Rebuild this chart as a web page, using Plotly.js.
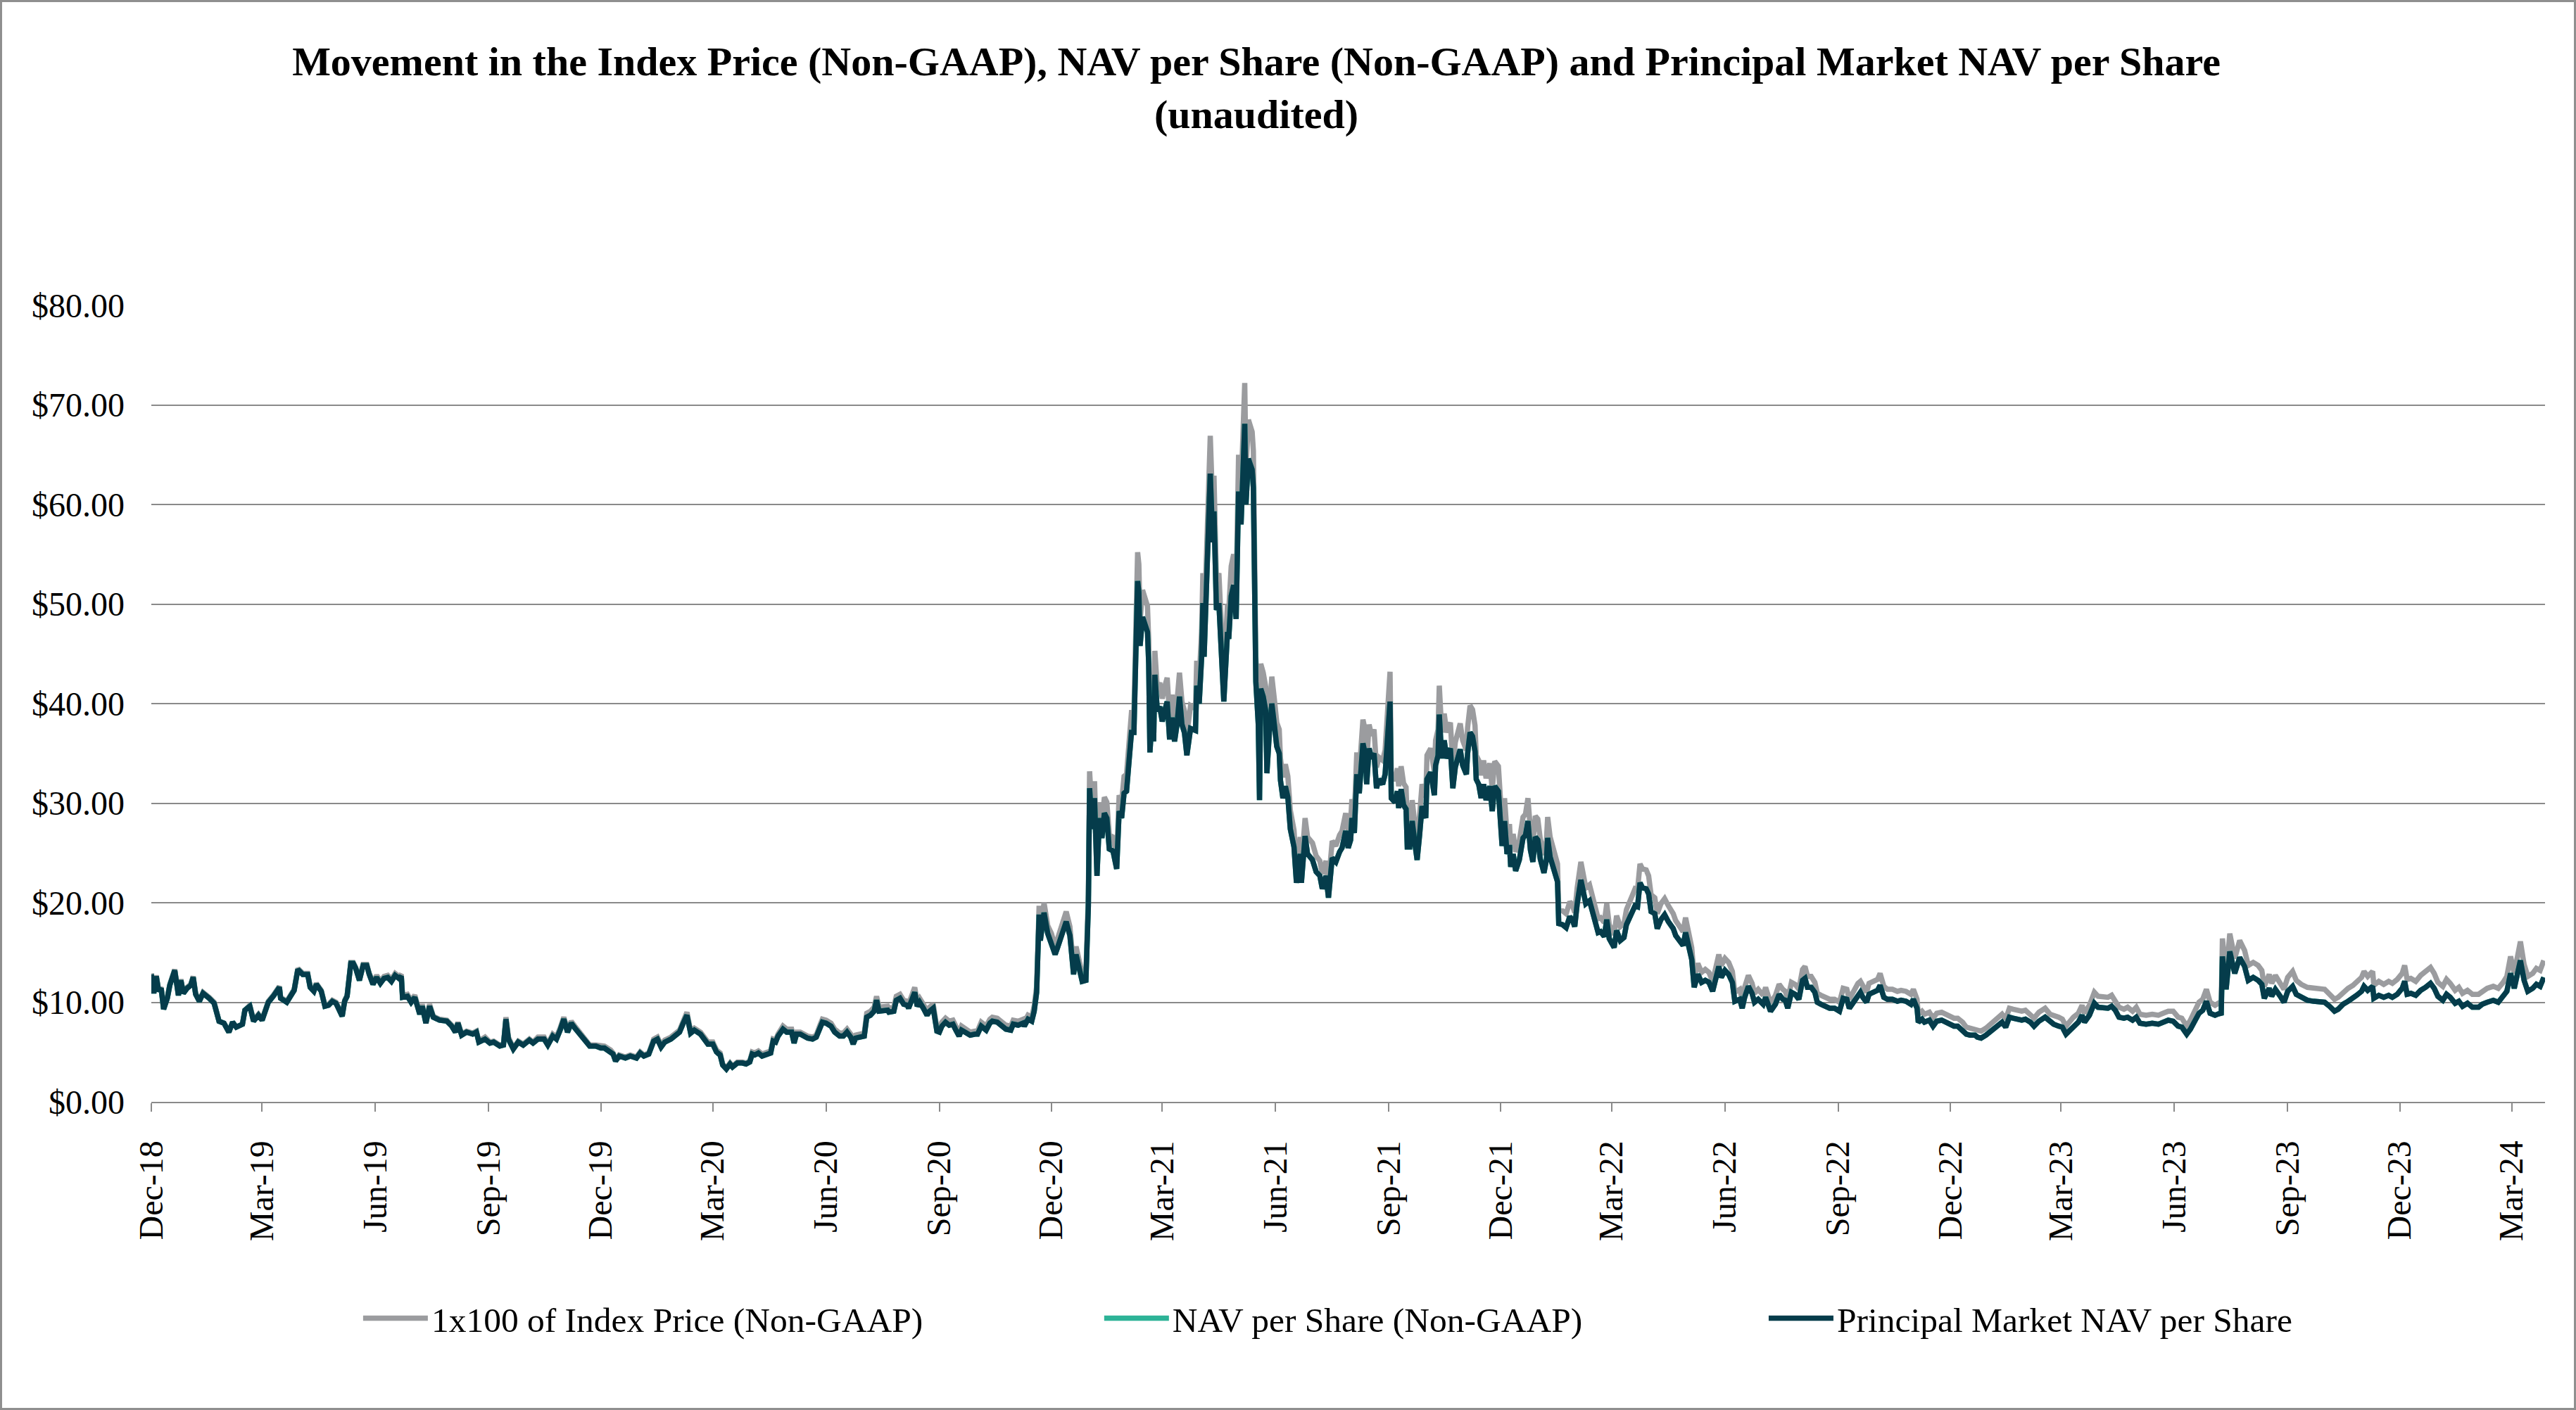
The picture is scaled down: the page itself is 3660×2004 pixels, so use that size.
<!DOCTYPE html>
<html><head><meta charset="utf-8">
<script src="https://cdn.plot.ly/plotly-3.0.1.min.js"></script>
<style>html,body{margin:0;padding:0;background:#fff}
#chart{width:3660px;height:2004px;box-sizing:border-box;border:3px solid #8f8f8f}</style>
</head><body><div id="chart"></div>
<script>
// Days counted from the first date of the series
const startDate = '2018-12-01';
const dayOffsets = [
0,2,4,6,8,10,13,15,19,22,24,26,29,32,34,36,39,42,47,51,55,59,63,66,69,74,76,80,83,87,
90,95,99,104,105,110,114,116,119,123,127,129,132,134,138,141,144,147,150,153,155,157,159,162,164,166,169,172,175,177,
180,183,186,189,192,195,198,201,203,204,208,211,214,218,220,223,226,229,234,240,244,247,249,252,256,261,264,266,
271,275,278,283,286,288,290,294,298,302,307,310,314,319,322,326,329,332,335,338,341,344,349,353,356,361,
365,368,373,375,377,380,385,389,394,397,400,404,408,411,414,417,422,426,429,432,435,438,441,446,452,
456,459,462,464,467,470,472,476,480,483,486,488,490,493,496,499,503,505,507,509,513,516,520,522,524,527,530,533,537,540,543,
545,548,552,555,559,562,565,568,570,572,576,579,581,584,587,589,591,595,598,599,603,605,608,611,614,615,618,620,622,624,627,630,632,635,638,
640,642,645,648,651,653,656,658,661,665,669,671,674,678,681,683,687,690,694,698,700,704,708,709,712,715,717,719,721,722,725,728,
731,734,736,740,743,746,749,751,754,756,759,761,762,764,766,768,770,772,774,776,778,781,784,786,788,790,792,794,796,798,799,801,802,803,805,807,809,810,811,813,814,815,817,
819,821,823,825,827,829,831,833,835,837,839,841,844,848,849,851,853,854,855,857,858,860,862,863,865,867,869,871,874,875,877,879,881,883,885,886,888,889,891,892,894,895,896,897,899,900,901,903,905,906,908,
910,912,914,916,917,919,921,923,925,928,930,933,934,937,939,943,946,949,951,954,956,959,962,965,967,970,972,974,975,977,979,981,984,986,987,989,991,993,995,997,
1000,1002,1004,1006,1007,1010,1012,1013,1015,1017,1019,1020,1022,1024,1026,1028,1030,1032,1035,1036,1039,1042,1043,1045,1046,1048,1050,1052,1055,1057,1059,1061,1063,1065,1068,1069,1071,1073,1075,1076,1078,1080,1082,1084,1087,1089,
1091,1094,1096,1097,1099,1101,1103,1104,1106,1108,1111,1114,1116,1118,1120,1122,1124,1126,1128,1131,1133,1134,1136,1139,1142,1143,1146,1149,1152,1154,1156,1158,1161,1163,1165,1168,1171,1175,1177,
1180,1182,1184,1188,1190,1193,1196,1198,1201,1205,1207,1209,1211,1214,1216,1218,1221,1223,1226,1229,1232,1236,1238,1241,1244,1246,1248,1251,1253,1256,1259,1262,1265,1268,1273,
1275,1278,1281,1284,1286,1290,1292,1294,1297,1300,1302,1305,1309,1311,1315,1319,1322,1325,1327,1329,1332,1335,1338,1341,1343,1345,1348,1351,1353,1356,1359,1363,
1367,1371,1374,1377,1379,1382,1386,1388,1390,1393,1395,1399,1402,1404,1407,1410,1414,1418,1421,1425,1429,1431,1434,1435,1438,1440,1444,1447,1450,1454,
1457,1461,1464,1467,1471,1474,1477,1481,1483,1486,1490,1493,1497,1501,1503,1506,1509,1512,1516,1519,1522,1526,1529,1533,1538,1542,
1545,1549,1552,1555,1561,1565,1568,1570,1574,1578,1581,1585,1589,1592,1595,1598,1602,1605,1609,1612,1615,1620,1625,1630,1634,1638,
1642,1646,1649,1653,1656,1659,1663,1666,1669,1672,1676,1680,1681,1682,1685,1688,1692,1696,1700,1703,1707,1711,1714,1716,1720,1722,1725,1729,
1732,1735,1739,1742,1746,1751,1756,1760,1765,1769,1773,1776,1780,1784,1788,1791,1795,1797,1800,1804,1805,1809,1813,1817,
1820,1824,1828,1830,1832,1835,1839,1843,1847,1851,1854,1857,1861,1864,1867,1871,1874,1877,1881,1885,1890,1893,1897,1902,1906,1910,1913,1916,1919,1924,1927,1930,1934,1937,1940,1943
];

const indexPriceX100 = [
12.9,11.0,12.7,11.2,11.5,9.3,10.5,11.8,13.3,10.8,12.3,11.0,11.5,11.8,12.6,10.9,10.2,11.0,10.5,10.0,8.1,7.9,7.0,8.0,7.5,7.8,9.2,9.7,8.2,8.8,
8.3,10.1,10.7,11.6,10.5,10.1,10.9,11.3,13.4,12.9,12.9,11.6,11.2,11.9,11.2,9.7,9.8,10.2,10.0,9.3,8.7,10.2,10.7,14.0,14.0,13.5,12.3,13.8,13.8,12.9,
12.0,12.7,12.1,12.6,12.7,12.3,12.9,12.6,12.8,10.7,10.8,10.2,10.7,8.9,9.8,8.0,9.8,8.6,8.3,8.2,7.7,7.1,8.0,6.8,7.1,6.9,7.1,6.1,
6.5,6.0,6.1,5.7,5.8,8.5,6.5,5.4,6.1,5.8,6.3,6.0,6.5,6.5,5.8,6.8,6.5,7.4,8.5,7.2,8.1,7.6,6.8,6.0,5.7,5.7,
5.6,5.6,5.2,4.9,4.2,4.7,4.5,4.7,4.5,5.0,4.7,4.9,6.3,6.5,5.7,6.2,6.5,7.0,7.2,8.1,9.0,7.1,7.4,7.0,6.0,
6.0,5.2,4.9,3.8,3.4,3.9,3.6,4.0,4.0,3.9,4.1,5.0,4.9,5.1,4.8,4.9,5.1,6.3,6.2,6.8,7.6,7.3,7.3,6.1,7.0,7.0,6.8,6.6,6.5,6.7,7.7,
8.3,8.2,7.9,7.3,6.9,6.9,7.3,6.8,6.0,6.7,6.8,6.9,8.9,9.1,9.5,10.6,9.5,9.6,9.6,9.4,9.5,10.6,10.8,10.2,10.1,9.8,11.1,11.5,10.0,10.4,9.8,9.1,9.5,9.8,7.4,
7.4,8.0,8.4,8.1,8.2,7.7,6.9,7.6,7.4,7.0,7.1,7.1,8.0,7.6,8.3,8.5,8.4,8.1,7.7,7.6,8.2,8.1,8.3,8.0,8.7,8.5,9.6,11.6,19.7,17.0,20.0,17.7,
16.9,15.6,16.4,17.8,19.1,17.6,13.5,15.6,13.8,12.8,12.9,20.8,33.2,28.9,32.2,23.9,30.1,28.0,30.6,30.1,26.8,26.6,24.7,30.8,30.1,32.7,32.9,36.5,39.1,39.1,46.4,55.2,54.0,48.3,51.4,50.5,49.8,46.4,37.0,41.3,38.2,45.3,41.5,
42.1,40.5,41.7,42.6,38.6,40.9,38.4,40.2,43.1,40.2,39.3,36.9,39.8,39.5,44.3,42.4,47.4,53.1,47.4,56.9,57.7,66.9,59.6,62.9,52.4,53.1,47.8,42.6,50.0,49.3,53.8,55.0,51.4,65.0,61.5,64.6,72.2,63.6,68.5,68.1,67.3,65.4,49.3,44.7,40.2,32.1,44.0,43.1,41.7,35.0,39.3,
42.7,40.5,38.1,37.4,34.5,32.6,33.9,32.7,29.3,27.3,23.5,26.6,23.5,28.5,26.6,26.0,24.7,24.2,22.9,24.2,21.9,26.2,25.7,26.8,27.2,29.0,27.2,28.1,30.4,28.8,35.1,33.1,38.4,37.2,34.1,37.9,36.8,37.4,33.6,34.6,
34.3,35.3,38.7,43.2,32.8,32.3,33.5,31.7,33.7,32.0,31.6,27.5,27.5,30.3,28.0,26.1,28.8,31.9,30.6,34.8,35.5,33.1,36.3,37.4,41.8,37.1,39.0,37.1,38.1,33.8,36.1,37.1,38.0,36.3,35.3,37.6,39.8,39.4,37.8,34.8,34.3,32.8,34.3,32.5,34.0,31.4,
34.2,33.7,28.2,27.8,30.5,26.9,27.9,25.5,26.9,25.1,26.2,28.6,28.9,30.5,27.3,26.0,28.7,28.4,26.4,24.8,26.2,28.6,26.6,25.4,23.9,19.3,19.2,18.9,20.1,19.8,19.0,21.5,24.1,22.8,21.5,21.8,20.3,18.4,18.5,
18.0,19.9,17.8,16.8,18.7,17.6,17.9,19.3,20.1,21.4,21.3,23.9,23.4,23.3,22.7,20.8,20.5,18.9,19.9,20.4,19.7,18.9,18.2,17.6,17.1,18.5,17.1,15.5,12.5,13.9,13.0,13.3,13.0,12.1,14.8,
13.7,14.4,14.0,13.1,11.0,11.3,10.3,11.5,12.7,11.9,10.9,11.3,10.7,11.5,9.9,10.7,11.8,11.3,11.1,10.3,12.0,11.8,11.3,13.3,13.6,12.6,12.6,12.0,10.9,10.7,10.5,10.3,
10.3,10.0,11.4,11.3,10.3,11.0,11.9,12.1,11.6,11.0,11.9,12.2,12.3,12.9,11.6,11.3,11.3,11.1,11.2,11.1,10.8,11.3,10.3,8.8,9.1,8.8,9.0,8.4,8.9,9.0,
8.8,8.6,8.4,8.4,8.0,7.5,7.4,7.4,7.2,7.1,7.4,7.7,8.2,8.5,8.8,8.3,9.4,9.3,9.2,9.1,9.2,8.8,8.4,9.0,9.4,8.8,
8.7,8.5,8.3,7.6,8.5,8.9,9.7,8.9,9.7,11.0,10.6,10.5,10.5,10.7,10.2,9.5,9.3,9.5,9.1,9.5,8.8,8.7,8.8,8.7,8.9,9.1,
9.1,8.5,8.4,7.6,8.2,9.0,10.0,10.3,11.3,10.0,9.7,10.0,9.7,16.4,12.7,16.9,14.4,16.2,15.2,13.7,14.0,13.7,13.2,11.6,12.8,11.9,12.7,11.9,
11.3,12.5,13.1,12.2,11.8,11.5,11.4,11.3,11.3,10.8,10.3,10.5,11.0,11.4,11.7,12.1,12.5,13.1,12.6,13.1,11.7,12.1,11.8,12.1,
11.9,12.3,12.9,13.7,12.3,12.4,12.1,12.7,13.1,13.5,12.9,12.0,11.6,12.3,11.9,11.2,11.5,10.9,11.2,10.8,10.8,11.1,11.4,11.6,11.4,12.0,12.6,14.6,12.9,16.1,13.8,12.6,12.9,13.4,13.2,14.2
];

const navPerShareNonGaap = [
12.8,10.9,12.6,11.1,11.4,9.3,10.4,11.7,13.2,10.7,12.2,10.9,11.4,11.7,12.5,10.8,10.1,10.9,10.4,9.9,8.1,7.9,7.0,8.0,7.5,7.8,9.2,9.6,8.1,8.7,
8.2,10.0,10.6,11.5,10.4,10.0,10.8,11.2,13.3,12.8,12.8,11.5,11.1,11.8,11.1,9.6,9.7,10.1,9.9,9.2,8.6,10.1,10.6,13.9,13.9,13.4,12.2,13.7,13.7,12.8,
11.8,12.5,11.9,12.4,12.5,12.1,12.7,12.4,12.6,10.5,10.6,10.0,10.5,8.8,9.6,7.9,9.6,8.5,8.2,8.1,7.6,7.0,7.9,6.7,7.0,6.8,7.0,6.0,
6.3,5.9,6.0,5.6,5.7,8.3,6.3,5.3,6.0,5.7,6.2,5.9,6.3,6.3,5.7,6.6,6.3,7.2,8.3,7.0,7.9,7.4,6.6,5.9,5.6,5.6,
5.4,5.4,5.0,4.8,4.1,4.6,4.4,4.6,4.4,4.9,4.6,4.8,6.1,6.3,5.5,6.0,6.3,6.8,7.0,7.9,8.7,6.9,7.2,6.8,5.8,
5.8,5.0,4.7,3.7,3.3,3.8,3.5,3.9,3.9,3.8,4.0,4.8,4.7,4.9,4.6,4.7,4.9,6.1,6.0,6.6,7.3,7.0,7.0,5.9,6.8,6.8,6.6,6.4,6.3,6.5,7.4,
8.0,7.9,7.6,7.0,6.6,6.6,7.0,6.5,5.8,6.4,6.5,6.6,8.5,8.7,9.1,10.2,9.1,9.2,9.2,9.0,9.1,10.2,10.4,9.8,9.7,9.4,10.6,11.0,9.6,10.0,9.4,8.7,9.1,9.4,7.1,
7.0,7.6,8.0,7.7,7.8,7.3,6.6,7.2,7.0,6.7,6.8,6.8,7.6,7.2,7.9,8.1,8.0,7.7,7.3,7.2,7.8,7.7,7.9,7.6,8.3,8.1,9.1,11.0,18.8,16.2,19.0,16.9,
16.0,14.8,15.5,16.9,18.1,16.7,12.8,14.8,13.1,12.1,12.2,19.7,31.5,27.4,30.5,22.7,28.5,26.5,29.0,28.5,25.4,25.2,23.4,29.2,28.5,31.0,31.2,34.6,37.1,37.1,44.0,52.3,51.2,45.8,48.7,47.9,47.2,44.0,35.1,39.1,36.2,42.9,39.3,
39.7,38.2,39.3,40.2,36.4,38.6,36.2,37.9,40.7,37.9,37.1,34.8,37.5,37.3,41.8,40.0,44.7,50.1,44.7,53.7,54.4,63.1,56.2,59.3,49.4,50.1,45.1,40.2,47.2,46.5,50.8,51.9,48.5,61.3,58.0,60.9,68.1,60.0,64.6,64.2,63.5,61.7,46.5,42.2,37.9,30.3,41.5,40.7,39.3,33.0,37.1,
40.0,37.9,35.7,35.0,32.3,30.5,31.7,30.6,27.4,25.6,22.0,24.9,22.0,26.7,24.9,24.3,23.1,22.7,21.4,22.7,20.5,24.5,24.1,25.1,25.5,27.2,25.5,26.3,28.5,27.0,32.9,31.0,36.0,34.8,31.9,35.5,34.5,35.0,31.5,32.4,
31.9,32.9,36.0,40.2,30.5,30.1,31.2,29.5,31.4,29.8,29.4,25.6,25.6,28.2,26.1,24.3,26.8,29.7,28.5,32.4,33.1,30.8,33.8,34.8,38.9,34.5,36.3,34.5,35.5,31.5,33.6,34.5,35.4,33.8,32.9,35.0,37.1,36.7,35.2,32.4,31.9,30.5,31.9,30.3,31.7,29.2,
31.7,31.2,26.1,25.7,28.2,24.9,25.8,23.6,24.9,23.2,24.3,26.5,26.8,28.2,25.3,24.1,26.6,26.3,24.4,23.0,24.3,26.5,24.6,23.5,22.1,17.9,17.8,17.5,18.6,18.3,17.6,19.9,22.3,21.1,19.9,20.2,18.8,17.0,17.1,
16.6,18.3,16.4,15.5,17.2,16.2,16.5,17.8,18.5,19.7,19.6,22.0,21.5,21.4,20.9,19.1,18.9,17.4,18.3,18.8,18.1,17.4,16.7,16.2,15.7,17.0,15.7,14.3,11.5,12.8,12.0,12.2,12.0,11.1,13.6,
12.5,13.2,12.8,12.0,10.1,10.3,9.4,10.5,11.6,10.9,10.0,10.3,9.8,10.5,9.1,9.8,10.8,10.3,10.2,9.4,11.0,10.8,10.3,12.2,12.4,11.5,11.5,11.0,10.0,9.8,9.6,9.4,
9.4,9.1,10.4,10.3,9.4,10.0,10.8,11.0,10.5,10.0,10.8,11.1,11.2,11.7,10.5,10.3,10.3,10.1,10.2,10.1,9.8,10.3,9.4,8.0,8.3,8.0,8.2,7.6,8.1,8.2,
8.0,7.8,7.6,7.6,7.2,6.8,6.7,6.7,6.5,6.4,6.7,7.0,7.4,7.7,8.0,7.5,8.5,8.4,8.3,8.2,8.3,8.0,7.6,8.1,8.5,8.0,
7.8,7.6,7.5,6.8,7.6,8.0,8.7,8.0,8.7,9.9,9.5,9.4,9.4,9.6,9.2,8.5,8.4,8.5,8.2,8.5,7.9,7.8,7.9,7.8,8.0,8.2,
8.1,7.6,7.5,6.8,7.3,8.0,8.9,9.2,10.1,8.9,8.7,8.9,8.7,14.6,11.3,15.1,12.9,14.5,13.6,12.2,12.5,12.2,11.8,10.4,11.4,10.6,11.3,10.6,
10.0,11.1,11.6,10.8,10.5,10.2,10.1,10.0,10.0,9.6,9.1,9.3,9.8,10.1,10.4,10.7,11.1,11.6,11.2,11.6,10.4,10.7,10.5,10.7,
10.5,10.8,11.4,12.1,10.8,10.9,10.7,11.2,11.5,11.9,11.4,10.6,10.2,10.8,10.5,9.9,10.1,9.6,9.9,9.5,9.5,9.8,10.0,10.2,10.0,10.6,11.1,12.9,11.4,14.2,12.2,11.1,11.4,11.8,11.6,12.5
];

const principalMarketNavPerShare = [
12.8,10.9,12.6,11.1,11.4,9.3,10.4,11.7,13.2,10.7,12.2,10.9,11.4,11.7,12.5,10.8,10.1,10.9,10.4,9.9,8.1,7.9,7.0,8.0,7.5,7.8,9.2,9.6,8.1,8.7,
8.2,10.0,10.6,11.5,10.4,10.0,10.8,11.2,13.3,12.8,12.8,11.5,11.1,11.8,11.1,9.6,9.7,10.1,9.9,9.2,8.6,10.1,10.6,13.9,13.9,13.4,12.2,13.7,13.7,12.8,
11.8,12.5,11.9,12.4,12.5,12.1,12.7,12.4,12.6,10.5,10.6,10.0,10.5,8.8,9.6,7.9,9.6,8.5,8.2,8.1,7.6,7.0,7.9,6.7,7.0,6.8,7.0,6.0,
6.3,5.9,6.0,5.6,5.7,8.3,6.3,5.3,6.0,5.7,6.2,5.9,6.3,6.3,5.7,6.6,6.3,7.2,8.3,7.0,7.9,7.4,6.6,5.9,5.6,5.6,
5.4,5.4,5.0,4.8,4.1,4.6,4.4,4.6,4.4,4.9,4.6,4.8,6.1,6.3,5.5,6.0,6.3,6.8,7.0,7.9,8.7,6.9,7.2,6.8,5.8,
5.8,5.0,4.7,3.7,3.3,3.8,3.5,3.9,3.9,3.8,4.0,4.8,4.7,4.9,4.6,4.7,4.9,6.1,6.0,6.6,7.3,7.0,7.0,5.9,6.8,6.8,6.6,6.4,6.3,6.5,7.4,
8.0,7.9,7.6,7.0,6.6,6.6,7.0,6.5,5.8,6.4,6.5,6.6,8.5,8.7,9.1,10.2,9.1,9.2,9.2,9.0,9.1,10.2,10.4,9.8,9.7,9.4,10.6,11.0,9.6,10.0,9.4,8.7,9.1,9.4,7.1,
7.0,7.6,8.0,7.7,7.8,7.3,6.6,7.2,7.0,6.7,6.8,6.8,7.6,7.2,7.9,8.1,8.0,7.7,7.3,7.2,7.8,7.7,7.9,7.6,8.3,8.1,9.1,11.0,18.8,16.2,19.0,16.9,
16.0,14.8,15.5,16.9,18.1,16.7,12.8,14.8,13.1,12.1,12.2,19.7,31.5,27.4,30.5,22.7,28.5,26.5,29.0,28.5,25.4,25.2,23.4,29.2,28.5,31.0,31.2,34.6,37.1,37.1,44.0,52.3,51.2,45.8,48.7,47.9,47.2,44.0,35.1,39.1,36.2,42.9,39.3,
39.7,38.2,39.3,40.2,36.4,38.6,36.2,37.9,40.7,37.9,37.1,34.8,37.5,37.3,41.8,40.0,44.7,50.1,44.7,53.7,54.4,63.1,56.2,59.3,49.4,50.1,45.1,40.2,47.2,46.5,50.8,51.9,48.5,61.3,58.0,60.9,68.1,60.0,64.6,64.2,63.5,61.7,46.5,42.2,37.9,30.3,41.5,40.7,39.3,33.0,37.1,
40.0,37.9,35.7,35.0,32.3,30.5,31.7,30.6,27.4,25.6,22.0,24.9,22.0,26.7,24.9,24.3,23.1,22.7,21.4,22.7,20.5,24.5,24.1,25.1,25.5,27.2,25.5,26.3,28.5,27.0,32.9,31.0,36.0,34.8,31.9,35.5,34.5,35.0,31.5,32.4,
31.9,32.9,36.0,40.2,30.5,30.1,31.2,29.5,31.4,29.8,29.4,25.6,25.6,28.2,26.1,24.3,26.8,29.7,28.5,32.4,33.1,30.8,33.8,34.8,38.9,34.5,36.3,34.5,35.5,31.5,33.6,34.5,35.4,33.8,32.9,35.0,37.1,36.7,35.2,32.4,31.9,30.5,31.9,30.3,31.7,29.2,
31.7,31.2,26.1,25.7,28.2,24.9,25.8,23.6,24.9,23.2,24.3,26.5,26.8,28.2,25.3,24.1,26.6,26.3,24.4,23.0,24.3,26.5,24.6,23.5,22.1,17.9,17.8,17.5,18.6,18.3,17.6,19.9,22.3,21.1,19.9,20.2,18.8,17.0,17.1,
16.6,18.3,16.4,15.5,17.2,16.2,16.5,17.8,18.5,19.7,19.6,22.0,21.5,21.4,20.9,19.1,18.9,17.4,18.3,18.8,18.1,17.4,16.7,16.2,15.7,17.0,15.7,14.3,11.5,12.8,12.0,12.2,12.0,11.1,13.6,
12.5,13.2,12.8,12.0,10.1,10.3,9.4,10.5,11.6,10.9,10.0,10.3,9.8,10.5,9.1,9.8,10.8,10.3,10.2,9.4,11.0,10.8,10.3,12.2,12.4,11.5,11.5,11.0,10.0,9.8,9.6,9.4,
9.4,9.1,10.4,10.3,9.4,10.0,10.8,11.0,10.5,10.0,10.8,11.1,11.2,11.7,10.5,10.3,10.3,10.1,10.2,10.1,9.8,10.3,9.4,8.0,8.3,8.0,8.2,7.6,8.1,8.2,
8.0,7.8,7.6,7.6,7.2,6.8,6.7,6.7,6.5,6.4,6.7,7.0,7.4,7.7,8.0,7.5,8.5,8.4,8.3,8.2,8.3,8.0,7.6,8.1,8.5,8.0,
7.8,7.6,7.5,6.8,7.6,8.0,8.7,8.0,8.7,9.9,9.5,9.4,9.4,9.6,9.2,8.5,8.4,8.5,8.2,8.5,7.9,7.8,7.9,7.8,8.0,8.2,
8.1,7.6,7.5,6.8,7.3,8.0,8.9,9.2,10.1,8.9,8.7,8.9,8.7,14.6,11.3,15.1,12.9,14.5,13.6,12.2,12.5,12.2,11.8,10.4,11.4,10.6,11.3,10.6,
10.0,11.1,11.6,10.8,10.5,10.2,10.1,10.0,10.0,9.6,9.1,9.3,9.8,10.1,10.4,10.7,11.1,11.6,11.2,11.6,10.4,10.7,10.5,10.7,
10.5,10.8,11.4,12.1,10.8,10.9,10.7,11.2,11.5,11.9,11.4,10.6,10.2,10.8,10.5,9.9,10.1,9.6,9.9,9.5,9.5,9.8,10.0,10.2,10.0,10.6,11.1,12.9,11.4,14.2,12.2,11.1,11.4,11.8,11.6,12.5
];

const seriesNames = ['1x100 of Index Price (Non-GAAP)', 'NAV per Share (Non-GAAP)', 'Principal Market NAV per Share'];
const yTickValues = [0, 10, 20, 30, 40, 50, 60, 70, 80];
const xRange = ['2018-12-01', '2024-03-28'];
const chartTitle = 'Movement in the Index Price (Non-GAAP), NAV per Share (Non-GAAP) and Principal Market NAV per Share<br>(unaudited)';

const base = Date.parse(startDate + 'T00:00:00Z');
const dates = dayOffsets.map(d => new Date(base + d * 86400000).toISOString().slice(0, 10));

const serif = '"Liberation Serif", "Times New Roman", serif';
const colors = ['#9b9c9f', '#2db397', '#053c4b'];
const legendIds = ['legend', 'legend2', 'legend3'];
const seriesValues = [indexPriceX100, navPerShareNonGaap, principalMarketNavPerShare];

const traces = seriesValues.map((vals, i) => ({
  type: 'scatter', mode: 'lines', x: dates, y: vals, name: seriesNames[i],
  line: {color: colors[i], width: 7.5}, legend: legendIds[i], hoverinfo: 'skip'
}));

const legendBase = {orientation: 'h', xanchor: 'left', y: -0.272, yanchor: 'middle',
  itemwidth: 92, font: {family: serif, size: 49.5, color: '#000'}, bgcolor: 'rgba(0,0,0,0)', borderwidth: 0};

const layout = {
  width: 3654, height: 1998,
  margin: {l: 212, r: 41, t: 431, b: 435},
  paper_bgcolor: '#ffffff', plot_bgcolor: '#ffffff',
  font: {family: serif, size: 48, color: '#000'},
  showlegend: true,
  title: {text: chartTitle, font: {family: serif, size: 58, color: '#000', weight: 700},
    x: 0.4877, xref: 'container', xanchor: 'center', y: 0.948, yref: 'container', yanchor: 'top'},
  xaxis: {type: 'date', range: xRange, tick0: '2018-12-01', dtick: 'M3', tickformat: '%b-%y',
    tickangle: -90, ticks: 'outside', ticklen: 12, tickwidth: 2, tickcolor: '#8a8a8a',
    showline: true, linecolor: '#8a8a8a', linewidth: 2, showgrid: false, zeroline: false,
    ticklabelstandoff: 22, tickfont: {family: serif, size: 48, color: '#000'}},
  yaxis: {range: [0, 80], tickvals: yTickValues, tickformat: '$.2f', showgrid: true,
    gridcolor: '#8a8a8a', gridwidth: 2, zeroline: false, showline: false, ticks: '',
    ticklabelstandoff: 37, tickfont: {family: serif, size: 48, color: '#000'}},
  legend: Object.assign({}, legendBase, {x: 0.0870}),
  legend2: Object.assign({}, legendBase, {x: 0.3966}),
  legend3: Object.assign({}, legendBase, {x: 0.6742})
};

Plotly.newPlot('chart', traces, layout, {staticPlot: true, displayModeBar: false});
</script>
</body></html>
